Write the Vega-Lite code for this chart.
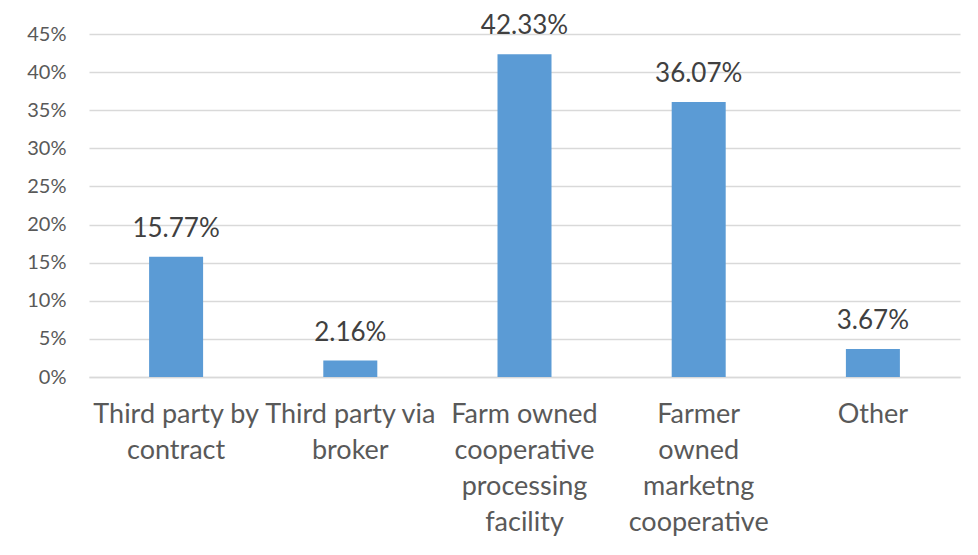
{
  "$schema": "https://vega.github.io/schema/vega-lite/v6.json",
  "width": 871,
  "height": 343,
  "autosize": "none",
  "padding": {"left": 89, "top": 34, "right": 18, "bottom": 178},
  "background": "white",
  "config": {
    "view": {"stroke": null},
    "font": "Lato"
  },
  "data": {
    "values": [
      {"category": "Third party by contract", "share": 0.1577},
      {"category": "Third party via broker", "share": 0.0216},
      {"category": "Farm owned cooperative processing facility", "share": 0.4233},
      {"category": "Farmer owned marketng cooperative", "share": 0.3607},
      {"category": "Other", "share": 0.0367}
    ]
  },
  "encoding": {
    "x": {
      "field": "category",
      "type": "nominal",
      "sort": null,
      "scale": {"paddingInner": 0, "paddingOuter": 0},
      "axis": {
        "title": null,
        "labelAngle": 0,
        "labelFont": "Lato",
        "labelFontSize": 27,
        "labelColor": "#595959",
        "labelLineHeight": 36,
        "labelPadding": 24,
        "labelLimit": 300,
        "ticks": false,
        "domainColor": "#D9D9D9",
        "domainWidth": 1.5,
        "labelExpr": "datum.value == 'Third party by contract' ? ['Third party by', 'contract'] : datum.value == 'Third party via broker' ? ['Third party via', 'broker'] : datum.value == 'Farm owned cooperative processing facility' ? ['Farm owned', 'cooperative', 'processing', 'facility'] : datum.value == 'Farmer owned marketng cooperative' ? ['Farmer', 'owned', 'marketng', 'cooperative'] : datum.value"
      }
    },
    "y": {
      "field": "share",
      "type": "quantitative",
      "scale": {"domain": [0, 0.45], "nice": false},
      "axis": {
        "title": null,
        "format": ".0%",
        "values": [0, 0.05, 0.1, 0.15, 0.2, 0.25, 0.3, 0.35, 0.4, 0.45],
        "labelFont": "Lato",
        "labelFontSize": 20,
        "labelColor": "#595959",
        "labelPadding": 23,
        "ticks": false,
        "domain": false,
        "gridColor": "#D9D9D9",
        "gridWidth": 1.5
      }
    }
  },
  "layer": [
    {
      "mark": {"type": "bar", "color": "#5B9BD5", "width": {"band": 0.31}}
    },
    {
      "mark": {
        "type": "text",
        "baseline": "alphabetic",
        "dy": -20,
        "font": "Lato",
        "fontSize": 26,
        "color": "#404040"
      },
      "encoding": {
        "text": {"field": "share", "type": "quantitative", "format": ".2%"}
      }
    }
  ]
}
